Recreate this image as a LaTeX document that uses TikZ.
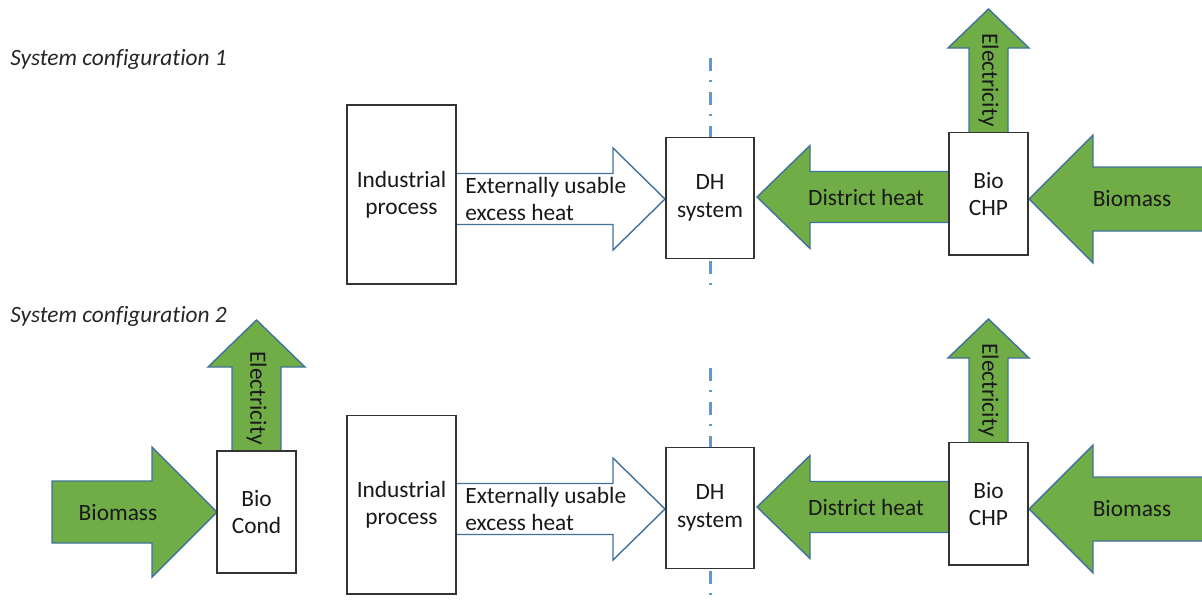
\documentclass[tikz,border=0pt]{standalone}
\usepackage{fontspec}
\setmainfont{Carlito}[Ligatures=NoCommon]
\usetikzlibrary{positioning}
\definecolor{leaf}{HTML}{70AD47}
\definecolor{rim}{HTML}{41719C}
\definecolor{cutblue}{HTML}{5B9BD5}

% block arrows: style, tail, head base, tip, axis, shaft half width, head half width
\newcommand{\harrow}[7]{%
  \draw[#1] (#2,#5-#6) -- (#3,#5-#6) -- (#3,#5-#7) -- (#4,#5)
    -- (#3,#5+#7) -- (#3,#5+#6) -- (#2,#5+#6) -- cycle;}
\newcommand{\varrow}[7]{%
  \draw[#1] (#2-#6,#3) -- (#2-#6,#4) -- (#2-#7,#4) -- (#2,#5)
    -- (#2+#7,#4) -- (#2+#6,#4) -- (#2+#6,#3) -- cycle;}

\begin{document}
\begin{tikzpicture}[x=0.02cm,y=-0.02cm,font=\fontsize{13.3}{15.6}\selectfont,
  unit/.style={draw=black!80,fill=white,line width=0.6pt,inner sep=0pt,
    align=center,text=black!90},
  flow/.style={draw=rim,fill=leaf,line width=0.8pt},
  hollow/.style={draw=rim,fill=white,line width=0.8pt},
  cut/.style={draw=cutblue,line width=1.7pt,
    dash pattern=on 7.4pt off 5.1pt on 1.1pt off 5.7pt},
  tag/.style={inner sep=0pt,text=black!90},
  heading/.style={inner sep=0pt,anchor=base west,font=\fontsize{13.3}{15.6}\selectfont\itshape,
    text=black!85}]
% 1 px of the original = 0.02cm; y runs downwards
\useasboundingbox (0,0) rectangle (1202,599);

\node[heading] (head1) at (10,65) {System configuration 1};
\node[heading] (head2) at (10,322) {System configuration 2};

% both configurations share the right-hand part, shifted by \dy
\foreach \c/\dy in {1/0,2/310}{
  \draw[cut] (710,58+\dy) -- (710,287+\dy);
  \harrow{hollow}{456}{613}{665}{199+\dy}{25.5}{51}
  \harrow{flow}{949}{810}{757}{197+\dy}{25.5}{51.5}
  \harrow{flow}{1204}{1093}{1029}{199+\dy}{32}{64}
  \varrow{flow}{988.5}{133+\dy}{48+\dy}{9+\dy}{19.5}{40.5}

  \node[unit,minimum width=2.18cm,minimum height=3.58cm] (ind\c) at (401.5,194.5+\dy)
    {Industrial\\process};
  \node[unit,minimum width=1.76cm,minimum height=2.42cm] (dh\c) at (710,197.75+\dy)
    {DH\\system};
  \node[unit,minimum width=1.58cm,minimum height=2.45cm] (chp\c) at (988.5,193.75+\dy)
    {Bio\\CHP};

  \node[tag,anchor=west,align=left] (excess\c) at (465,199+\dy)
    {Externally usable\\excess heat};
  \node[tag] (dheat\c) at (866,197+\dy) {District heat};
  \node[tag] (bmass\c) at (1132,199+\dy) {Biomass};
  \node[tag,rotate=-90] (elec\c) at (988.5,80+\dy) {Electricity};
}

% configuration 2 also has a condensing plant
\harrow{flow}{52}{152}{217}{512}{31}{65}
\varrow{flow}{256.5}{452}{367}{320}{24.5}{48.5}
\node[unit,minimum width=1.58cm,minimum height=2.44cm] (cond) at (256.5,512) {Bio\\Cond};
\node[tag] (bmass0) at (118,513) {Biomass};
\node[tag,rotate=-90] (elec0) at (256.5,398) {Electricity};
\end{tikzpicture}
\end{document}
